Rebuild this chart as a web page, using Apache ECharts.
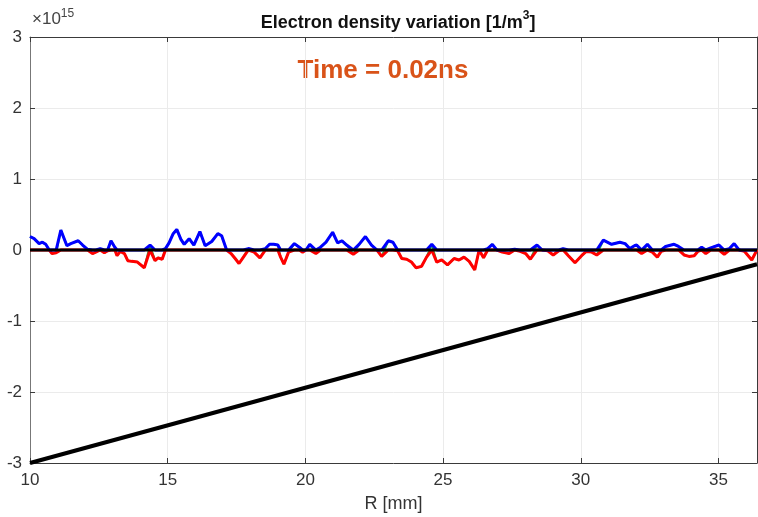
<!DOCTYPE html>
<html>
<head>
<meta charset="utf-8">
<script src="https://cdn.jsdelivr.net/npm/echarts@6/dist/echarts.min.js"></script>
<style>
html,body{margin:0;padding:0;background:#fff;}
#chart{width:758px;height:517px;}
</style>
</head>
<body>
<div id="chart"></div>
<script>
// Radius positions [mm] and electron density variation [x1e15 1/m^3]
const R = [10.00,10.15,10.33,10.45,10.57,10.70,10.80,10.95,11.12,11.34,11.48,11.75,11.91,12.09,12.27,12.39,12.55,12.70,12.82,12.94,
13.08,13.16,13.28,13.43,13.55,13.69,13.90,14.15,14.36,14.54,14.65,14.80,14.92,15.05,15.20,15.33,15.48,15.60,15.78,15.95,
16.17,16.36,16.60,16.82,16.96,17.14,17.30,17.45,17.59,17.75,17.93,18.14,18.35,18.55,18.70,18.85,19.00,19.10,19.22,19.39,
19.60,19.78,19.90,20.02,20.16,20.38,20.55,20.75,20.99,21.17,21.33,21.50,21.74,21.95,22.18,22.40,22.60,22.77,23.01,23.18,
23.35,23.50,23.68,23.85,24.02,24.22,24.40,24.59,24.77,24.95,25.16,25.40,25.58,25.76,25.95,26.15,26.31,26.47,26.62,26.79,
26.95,27.15,27.40,27.60,27.80,28.00,28.17,28.41,28.60,28.80,29.00,29.20,29.36,29.55,29.79,30.03,30.20,30.40,30.58,30.82,
31.12,31.42,31.61,31.78,31.95,32.03,32.21,32.42,32.60,32.78,32.92,33.08,33.39,33.55,33.75,33.93,34.12,34.25,34.39,34.54,
34.72,35.02,35.21,35.40,35.57,35.75,35.95,36.21,36.40];
const dn = [0.19,0.16,0.09,0.11,0.08,0.00,-0.05,-0.04,0.28,0.06,0.09,0.13,0.07,0.01,-0.05,-0.03,0.02,-0.04,-0.01,0.13,
0.04,-0.08,-0.02,-0.05,-0.15,-0.16,-0.17,-0.25,0.07,-0.15,-0.11,-0.13,0.02,0.10,0.23,0.29,0.15,0.08,0.16,0.07,
0.26,0.06,0.12,0.23,0.20,0.00,-0.05,-0.12,-0.19,-0.10,0.02,-0.03,-0.11,0.02,0.08,0.08,0.07,-0.10,-0.20,-0.03,
0.09,0.04,-0.03,0.00,0.08,-0.05,0.04,0.11,0.25,0.10,0.13,0.07,-0.06,0.08,0.19,0.07,0.00,-0.09,0.13,0.11,
-0.01,-0.12,-0.13,-0.17,-0.25,-0.23,-0.10,0.08,-0.17,-0.14,-0.21,-0.12,-0.14,-0.10,-0.16,-0.28,0.00,-0.11,0.02,0.08,
0.00,-0.03,-0.05,0.01,-0.02,-0.05,-0.13,0.07,0.00,-0.01,-0.07,-0.01,0.02,-0.08,-0.18,-0.08,-0.02,-0.03,-0.07,0.14,
0.08,0.11,0.09,0.02,0.06,0.07,-0.05,0.08,-0.03,-0.10,-0.02,0.05,0.08,0.05,-0.07,-0.09,-0.08,-0.02,0.04,-0.05,
0.03,0.07,-0.06,0.02,0.09,0.00,-0.02,-0.14,0.00];
// Reference lines
const zeroR = [10, 36.4];
const zeroV = [0, 0];
const trendR = [10, 36.4];
const trendV = [-3, -0.2];
// Axis ticks
const xTicks = [10, 15, 20, 25, 30, 35];
const yTicks = [-3, -2, -1, 0, 1, 2, 3];

// positive (blue) and negative (red) parts of the same profile
const posPart = R.map((r, i) => [r, Math.max(dn[i], 0)]);
const negPart = R.map((r, i) => [r, Math.min(dn[i], 0)]);

const font = 'Liberation Sans, Arial, sans-serif';
const chart = echarts.init(document.getElementById('chart'), null, {renderer: 'canvas'});
const axisCol = '#3a3a3a';
chart.setOption({
  animation: false,
  backgroundColor: '#fff',
  grid: {left: 30, right: 1, top: 37, bottom: 54, show: false, containLabel: false, outerBoundsMode: 'none'},
  title: {
    text: '{t|Electron density variation [1/m}{s|3}{t|]}',
    left: 393, top: 5, textAlign: 'center',
    textStyle: {rich: {
      t: {fontFamily: font, fontWeight: 'bold', fontSize: 18, color: '#111', verticalAlign: 'bottom', lineHeight: 22},
      s: {fontFamily: font, fontWeight: 'bold', fontSize: 12, color: '#111', verticalAlign: 'top', lineHeight: 22, padding: [0,0,9,0]}
    }}
  },
  graphic: [
    {type: 'text', left: 32, top: 8, style: {
      text: '{a|×10}{b|15}',
      rich: {
        a: {fontFamily: font, fontSize: 17, fill: '#444', verticalAlign: 'bottom', lineHeight: 20},
        b: {fontFamily: font, fontSize: 12, fill: '#444', verticalAlign: 'top', lineHeight: 20, padding: [0,0,8,0]}
      }}},
    {type: 'text', x: 383, y: 71, style: {
      text: 'Time = 0.02ns', fontFamily: font, fontWeight: 'bold', fontSize: 26, fill: '#D95319',
      align: 'center', verticalAlign: 'middle'}}
  ],
  xAxis: [{
    type: 'value', min: 10, max: 36.4, interval: 5,
    name: 'R [mm]', nameLocation: 'middle', nameGap: 32,
    nameTextStyle: {fontFamily: font, fontSize: 18, color: '#333'},
    axisLine: {show: true, onZero: false, lineStyle: {color: axisCol, width: 1}},
    axisTick: {show: true, inside: true, length: 5, lineStyle: {color: axisCol}},
    axisLabel: {fontFamily: font, fontSize: 17, color: '#333', margin: 9, showMaxLabel: false,
      formatter: v => xTicks.includes(v) ? String(v) : ''},
    splitLine: {show: true, lineStyle: {color: '#ebebeb', width: 1}}
  }, {
    type: 'value', position: 'top', min: 10, max: 36.4, interval: 5,
    axisLine: {show: true, onZero: false, lineStyle: {color: axisCol, width: 1}},
    axisTick: {show: true, inside: true, length: 5, lineStyle: {color: axisCol}},
    axisLabel: {show: false}, splitLine: {show: false}
  }],
  yAxis: [{
    type: 'value', min: -3, max: 3, interval: 1,
    axisLine: {show: true, onZero: false, lineStyle: {color: '#777', width: 1}},
    axisTick: {show: true, inside: true, length: 5, lineStyle: {color: axisCol}},
    axisLabel: {fontFamily: font, fontSize: 17, color: '#333', margin: 8,
      formatter: v => yTicks.includes(v) ? String(v) : ''},
    splitLine: {show: true, lineStyle: {color: '#ebebeb', width: 1}}
  }, {
    type: 'value', position: 'right', min: -3, max: 3, interval: 1,
    axisLine: {show: true, onZero: false, lineStyle: {color: axisCol, width: 1}},
    axisTick: {show: true, inside: true, length: 5, lineStyle: {color: axisCol}},
    axisLabel: {show: false}, splitLine: {show: false}
  }],
  series: [
    {type: 'line', name: 'dn', data: R.map((r, i) => [r, dn[i]]), showSymbol: false, symbol: 'none',
     lineStyle: {width: 2, color: '#22B14C'}, itemStyle: {color: '#22B14C'}, z: 1},
    {type: 'line', name: 'negative', data: negPart, showSymbol: false, symbol: 'none',
     lineStyle: {width: 3, color: '#FF0000'}, itemStyle: {color: '#FF0000'}, z: 2},
    {type: 'line', name: 'positive', data: posPart, showSymbol: false, symbol: 'none',
     lineStyle: {width: 3, color: '#0000FF'}, itemStyle: {color: '#0000FF'}, z: 2},
    {type: 'line', name: 'zero', data: zeroR.map((r, i) => [r, zeroV[i]]), showSymbol: false, symbol: 'none',
     lineStyle: {width: 3, color: '#000'}, itemStyle: {color: '#000'}, z: 3},
    {type: 'line', name: 'trend', data: trendR.map((r, i) => [r, trendV[i]]), showSymbol: false, symbol: 'none',
     lineStyle: {width: 4, color: '#000'}, itemStyle: {color: '#000'}, z: 4}
  ]
});
</script>
</body>
</html>
